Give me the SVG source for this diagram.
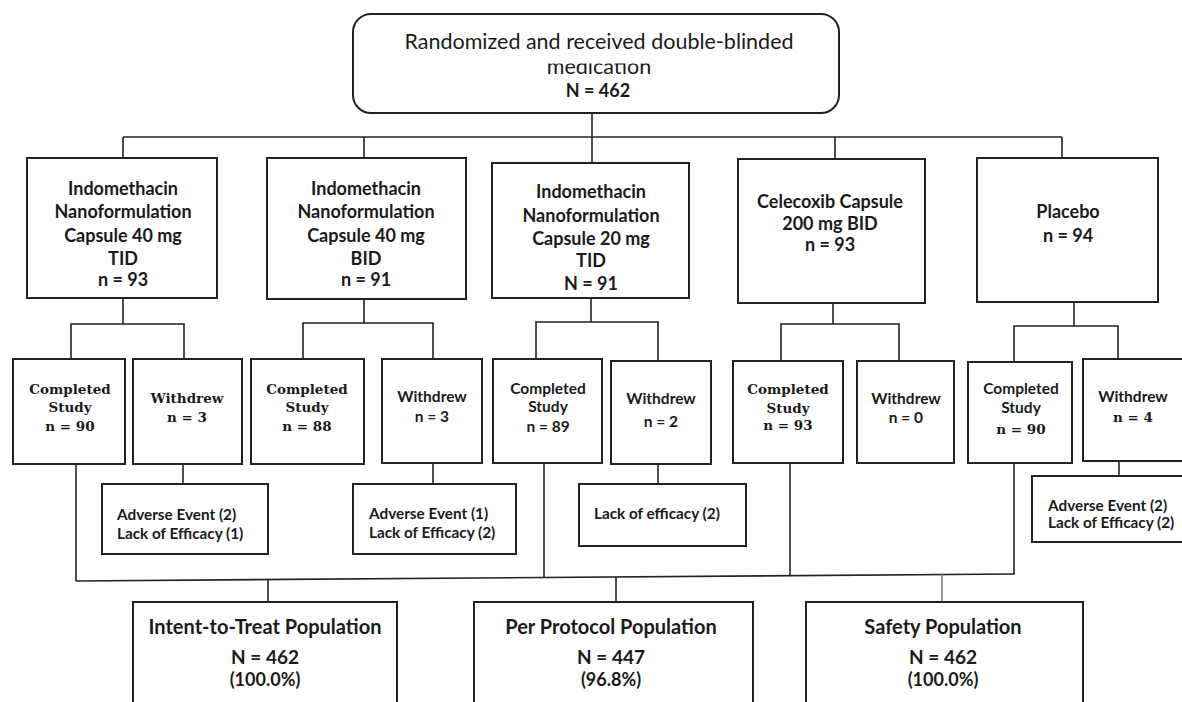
<svg xmlns="http://www.w3.org/2000/svg" width="1182" height="702" viewBox="0 0 1182 702">
<style>
.box{fill:#fff;stroke:#222;stroke-width:2}
.ln{stroke:#222;stroke-width:1.6;fill:none}
.gl{stroke:#888;stroke-width:1.6;fill:none}
text{fill:#1a1a1a}
.top{font-family:Lato,"Liberation Sans",sans-serif;font-size:21.5px;text-anchor:middle}
.arm{font-family:Lato,"Liberation Sans",sans-serif;font-size:18px;font-weight:bold;text-anchor:middle}
.sub{font-family:Lato,"Liberation Sans",sans-serif;font-size:15.5px;font-weight:bold;text-anchor:middle}
.ser{font-family:"DejaVu Serif","Liberation Serif",serif;font-size:13.5px;font-weight:bold;text-anchor:middle}
.rsn{font-family:Lato,"Liberation Sans",sans-serif;font-size:15.3px;font-weight:bold}
.pt{font-family:Lato,"Liberation Sans",sans-serif;font-size:20px;font-weight:bold;text-anchor:middle}
.pn{font-family:Lato,"Liberation Sans",sans-serif;font-size:19px;font-weight:bold;text-anchor:middle}
.pp{font-family:Lato,"Liberation Sans",sans-serif;font-size:18px;font-weight:bold;text-anchor:middle}
</style>
<defs>
<clipPath id="medclip"><rect x="360" y="63.5" width="470" height="16"/></clipPath>
</defs>
<g id="connectors">
<line class="ln" x1="592" y1="113" x2="592" y2="137"/>
<line class="ln" x1="123" y1="137" x2="1062" y2="137"/>
<line class="ln" x1="123" y1="137" x2="123" y2="158"/>
<line class="ln" x1="364" y1="137" x2="364" y2="158"/>
<line class="ln" x1="592" y1="137" x2="592" y2="163"/>
<line class="ln" x1="835" y1="137" x2="835" y2="159"/>
<line class="ln" x1="1062" y1="137" x2="1062" y2="158"/>
<polyline class="ln" points="123,298 123,324"/>
<polyline class="ln" points="71,359 71,324 184,324 184,359"/>
<polyline class="ln" points="364,299 364,323"/>
<polyline class="ln" points="303,359 303,323 433,323 433,359"/>
<polyline class="ln" points="591,298 591,322"/>
<polyline class="ln" points="536,359 536,322 658,322 658,361"/>
<polyline class="ln" points="833,303 833,324"/>
<polyline class="ln" points="781,361 781,324 899,324 899,361"/>
<polyline class="ln" points="1074,302 1074,326"/>
<polyline class="ln" points="1014,362 1014,326 1118,326 1118,359"/>
<line class="ln" x1="183" y1="464" x2="183" y2="484"/>
<line class="ln" x1="433" y1="463" x2="433" y2="484"/>
<line class="ln" x1="658" y1="464" x2="658" y2="484"/>
<line class="ln" x1="1119" y1="461" x2="1119" y2="476"/>
<line class="ln" x1="76" y1="464" x2="76" y2="581"/>
<line class="ln" x1="544" y1="463" x2="544" y2="577.5"/>
<line class="ln" x1="790" y1="463" x2="790" y2="575.7"/>
<line class="ln" x1="1014" y1="463" x2="1014" y2="574"/>
<line class="ln" x1="76" y1="581" x2="1015" y2="574"/>
<line class="ln" x1="268" y1="579.5" x2="268" y2="602"/>
<line class="ln" x1="616" y1="577" x2="616" y2="602"/>
<line class="gl" x1="942" y1="574.5" x2="942" y2="602"/>
</g>
<g id="randomized">
<rect class="box" x="353" y="14" width="486" height="99" rx="18"/>
<text class="top" x="599" y="48.5">Randomized and received double-blinded</text>
<text class="top" x="599" y="73.5" clip-path="url(#medclip)">medication</text>
<text class="arm" x="598" y="97">N = 462</text>
</g>
<g id="arm1">
<rect class="box" x="27" y="158" width="190" height="140"/>
<text class="arm" x="123" y="195">Indomethacin</text>
<text class="arm" x="123" y="218">Nanoformulation</text>
<text class="arm" x="123" y="241.5">Capsule 40 mg</text>
<text class="arm" x="123" y="265">TID</text>
<text class="arm" x="123" y="286">n = 93</text>
</g>
<g id="arm2">
<rect class="box" x="267" y="158" width="199" height="141"/>
<text class="arm" x="366" y="195">Indomethacin</text>
<text class="arm" x="366" y="218">Nanoformulation</text>
<text class="arm" x="366" y="241.5">Capsule 40 mg</text>
<text class="arm" x="366" y="265">BID</text>
<text class="arm" x="366" y="286">n = 91</text>
</g>
<g id="arm3">
<rect class="box" x="492" y="163" width="197" height="135"/>
<text class="arm" x="591" y="198">Indomethacin</text>
<text class="arm" x="591" y="222">Nanoformulation</text>
<text class="arm" x="591" y="245">Capsule 20 mg</text>
<text class="arm" x="591" y="267">TID</text>
<text class="arm" x="591" y="290">N = 91</text>
</g>
<g id="arm4">
<rect class="box" x="738" y="159" width="187" height="144"/>
<text class="arm" x="830" y="208">Celecoxib Capsule</text>
<text class="arm" x="830" y="230">200 mg BID</text>
<text class="arm" x="830" y="251">n = 93</text>
</g>
<g id="arm5">
<rect class="box" x="977" y="158" width="181" height="144"/>
<text class="arm" x="1068" y="218">Placebo</text>
<text class="arm" x="1068" y="242">n = 94</text>
</g>
<g id="completed1">
<rect class="box" x="13" y="359" width="112" height="105"/>
<text class="ser" x="70" y="394">Completed</text>
<text class="ser" x="70" y="412">Study</text>
<text class="ser" x="70" y="431">n = 90</text>
</g>
<g id="withdrew1">
<rect class="box" x="133" y="359" width="109" height="105"/>
<text class="ser" x="187" y="403">Withdrew</text>
<text class="ser" x="187" y="422">n = 3</text>
</g>
<g id="completed2">
<rect class="box" x="251" y="359" width="113" height="105"/>
<text class="ser" x="307" y="394">Completed</text>
<text class="ser" x="307" y="412">Study</text>
<text class="ser" x="307" y="431">n = 88</text>
</g>
<g id="withdrew2">
<rect class="box" x="382" y="359" width="100" height="104"/>
<text class="sub" x="432" y="402">Withdrew</text>
<text class="sub" x="432" y="422">n = 3</text>
</g>
<g id="completed3">
<rect class="box" x="493" y="359" width="109" height="104"/>
<text class="sub" x="548" y="394">Completed</text>
<text class="sub" x="548" y="412">Study</text>
<text class="sub" x="548" y="432">n = 89</text>
</g>
<g id="withdrew3">
<rect class="box" x="611" y="361" width="100" height="103"/>
<text class="sub" x="661" y="404">Withdrew</text>
<text class="sub" x="661" y="427">n = 2</text>
</g>
<g id="completed4">
<rect class="box" x="733" y="361" width="110" height="102"/>
<text class="ser" x="788" y="394">Completed</text>
<text class="ser" x="788" y="413">Study</text>
<text class="ser" x="788" y="430">n = 93</text>
</g>
<g id="withdrew4">
<rect class="box" x="857" y="361" width="97" height="102"/>
<text class="sub" x="906" y="404">Withdrew</text>
<text class="sub" x="906" y="423">n = 0</text>
</g>
<g id="completed5">
<rect class="box" x="968" y="362" width="104" height="101"/>
<text class="sub" x="1021" y="394">Completed</text>
<text class="sub" x="1021" y="413">Study</text>
<text class="ser" x="1021" y="434">n = 90</text>
</g>
<g id="withdrew5">
<rect class="box" x="1083" y="359" width="110" height="102"/>
<text class="sub" x="1133" y="402">Withdrew</text>
<text class="ser" x="1133" y="422">n = 4</text>
</g>
<g id="reason1">
<rect class="box" x="102" y="484" width="166" height="70"/>
<text class="rsn" x="117" y="520">Adverse Event (2)</text>
<text class="rsn" x="117" y="539">Lack of Efficacy (1)</text>
</g>
<g id="reason2">
<rect class="box" x="353" y="484" width="163" height="70"/>
<text class="rsn" x="369" y="519">Adverse Event (1)</text>
<text class="rsn" x="369" y="538">Lack of Efficacy (2)</text>
</g>
<g id="reason3">
<rect class="box" x="579" y="484" width="167" height="62"/>
<text class="rsn" x="594" y="519">Lack of efficacy (2)</text>
</g>
<g id="reason5">
<rect class="box" x="1032" y="476" width="160" height="66"/>
<text class="rsn" x="1048" y="511">Adverse Event (2)</text>
<text class="rsn" x="1048" y="528">Lack of Efficacy (2)</text>
</g>
<g id="itt">
<rect class="box" x="133" y="602" width="264" height="120"/>
<text class="pt" x="265" y="634">Intent-to-Treat Population</text>
<text class="pn" x="265" y="664">N = 462</text>
<text class="pp" x="265" y="686">(100.0%)</text>
</g>
<g id="pp">
<rect class="box" x="474" y="602" width="279" height="120"/>
<text class="pt" x="611" y="634">Per Protocol Population</text>
<text class="pn" x="611" y="664">N = 447</text>
<text class="pp" x="611" y="686">(96.8%)</text>
</g>
<g id="safety">
<rect class="box" x="806" y="602" width="277" height="120"/>
<text class="pt" x="943" y="634">Safety Population</text>
<text class="pn" x="943" y="664">N = 462</text>
<text class="pp" x="943" y="686">(100.0%)</text>
</g>
</svg>
